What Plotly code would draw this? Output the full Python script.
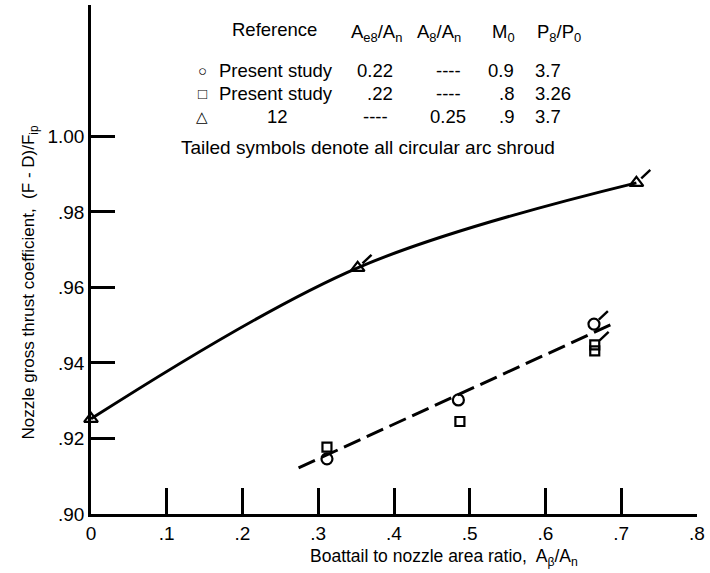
import plotly.graph_objects as go

# ---- data ----
tri_x = [0.0, 0.352, 0.720]
tri_y = [0.9252, 0.9652, 0.9877]
tri_tailed = [False, True, True]

circ_x = [0.3115, 0.485, 0.664]
circ_y = [0.9146, 0.9302, 0.9503]
circ_tailed = [False, False, True]

sq_x = [0.3115, 0.487, 0.665, 0.665]
sq_y = [0.9177, 0.9245, 0.9448, 0.9432]
sq_tailed = [False, False, True, False]

dash_x = [0.274, 0.686]
dash_y = [0.9122, 0.9501]

x_ticks = [0, 0.1, 0.2, 0.3, 0.4, 0.5, 0.6, 0.7, 0.8]
x_ticktext = ["0", ".1", ".2", ".3", ".4", ".5", ".6", ".7", ".8"]
y_ticks = [0.90, 0.92, 0.94, 0.96, 0.98, 1.00]
y_ticktext = [".90", ".92", ".94", ".96", ".98", "1.00"]

FONT = "Liberation Sans, Arial, sans-serif"
W, H = 710, 573
L, R, T, B = 91, 8, 5, 59
PW, PH = W - L - R, H - T - B
XR = [0, 0.8]
YR = [0.9, 1.0348]


def px(xp):
    return (xp - L) / PW


def py(yp):
    return (H - B - yp) / PH


fig = go.Figure()

# fairing curves
fig.add_trace(go.Scatter(x=tri_x, y=tri_y, mode="lines",
                         line=dict(color="black", width=3, shape="spline", smoothing=1.0),
                         hoverinfo="skip", cliponaxis=False))
fig.add_trace(go.Scatter(x=dash_x, y=dash_y, mode="lines",
                         line=dict(color="black", width=3, dash="18px,7px"),
                         hoverinfo="skip", cliponaxis=False))

# tails (short strokes up-right of the symbol, offset in pixels converted to data units)
TAIL_DX_PX, TAIL_DY_PX, TAIL_START = 14, 13, 0.35
ux = (XR[1] - XR[0]) / PW
uy = (YR[1] - YR[0]) / PH
for xs, ys, tails in [(tri_x, tri_y, tri_tailed), (circ_x, circ_y, circ_tailed),
                      (sq_x, sq_y, sq_tailed)]:
    for xv, yv, t in zip(xs, ys, tails):
        if t:
            fig.add_trace(go.Scatter(
                x=[xv + TAIL_START * TAIL_DX_PX * ux, xv + TAIL_DX_PX * ux],
                y=[yv + TAIL_START * TAIL_DY_PX * uy, yv + TAIL_DY_PX * uy],
                mode="lines", line=dict(color="black", width=2.4),
                hoverinfo="skip", cliponaxis=False))

# symbols
fig.add_trace(go.Scatter(x=tri_x, y=tri_y, mode="markers", cliponaxis=False,
                         marker=dict(symbol="triangle-up-open", size=12, color="black",
                                     line=dict(width=2.2, color="black"))))
fig.add_trace(go.Scatter(x=circ_x, y=circ_y, mode="markers", cliponaxis=False,
                         marker=dict(symbol="circle-open", size=11, color="black",
                                     line=dict(width=2.2, color="black"))))
fig.add_trace(go.Scatter(x=sq_x, y=sq_y, mode="markers", cliponaxis=False,
                         marker=dict(symbol="square-open", size=9, color="black",
                                     line=dict(width=2.2, color="black"))))

annotations = []

# axis titles
annotations.append(dict(x=px(447), y=py(557), xref="paper", yref="paper",
                        text="Boattail to nozzle area ratio,  A<sub>β</sub>/A<sub>n</sub>",
                        showarrow=False, font=dict(family=FONT, size=17.5, color="black"),
                        xanchor="center", yanchor="middle"))
annotations.append(dict(x=px(30), y=py(282), xref="paper", yref="paper",
                        text="Nozzle gross thrust coefficient,  (F - D)/F<sub>ip</sub>",
                        showarrow=False, textangle=-90,
                        font=dict(family=FONT, size=17, color="black"),
                        xanchor="center", yanchor="middle"))


def txt(s, xp, yp, anchor="left", size=18.5):
    annotations.append(dict(x=px(xp), y=py(yp), xref="paper", yref="paper", text=s,
                            showarrow=False, font=dict(family=FONT, size=size, color="black"),
                            xanchor=anchor, yanchor="middle"))


# legend table
txt("Reference", 276, 30, "center")
txt("A<sub>e8</sub>/A<sub>n</sub>", 379, 33, "center")
txt("A<sub>8</sub>/A<sub>n</sub>", 442, 33, "center")
txt("M<sub>0</sub>", 507, 33, "center")
txt("P<sub>8</sub>/P<sub>0</sub>", 563, 33, "center")

rows = [
    ("○", "Present study", "0.22", "----", "0.9", "3.7"),
    ("□", "Present study", ".22", "----", ".8", "3.26"),
    ("△", "12", "----", "0.25", ".9", "3.7"),
]
row_y = [70, 93, 116]
for (sym, ref, ae8, a8, m0, p8), yy in zip(rows, row_y):
    txt(sym, 203, yy, "center", 15)
    if ref == "12":
        txt(ref, 279, yy, "center")
    else:
        txt(ref, 218, yy, "left")
    if ae8 == "----":
        txt(ae8, 378, yy, "center")
    else:
        txt(ae8, 398, yy, "right")
    txt(a8, 451, yy, "center")
    txt(m0, 520, yy, "right")
    txt(p8, 537, yy, "left")

txt("Tailed symbols denote all circular arc shroud", 180, 147, "left", 19)

fig.update_layout(
    width=W, height=H,
    margin=dict(l=L, r=R, t=T, b=B, pad=0),
    paper_bgcolor="white", plot_bgcolor="white",
    showlegend=False,
    annotations=annotations,
    font=dict(family=FONT, size=19, color="black"),
    xaxis=dict(range=XR, tickvals=x_ticks, ticktext=x_ticktext,
               ticks="inside", ticklen=26, tickwidth=2.5, tickcolor="black",
               showline=True, linewidth=2.5, linecolor="black",
               showgrid=False, zeroline=False,
               tickfont=dict(family=FONT, size=19, color="black")),
    yaxis=dict(range=YR, tickvals=y_ticks, ticktext=y_ticktext,
               ticks="inside", ticklen=24, tickwidth=2.5, tickcolor="black",
               showline=True, linewidth=2.5, linecolor="black",
               showgrid=False, zeroline=False,
               tickfont=dict(family=FONT, size=19, color="black")),
)

fig.write_html("out.html")
